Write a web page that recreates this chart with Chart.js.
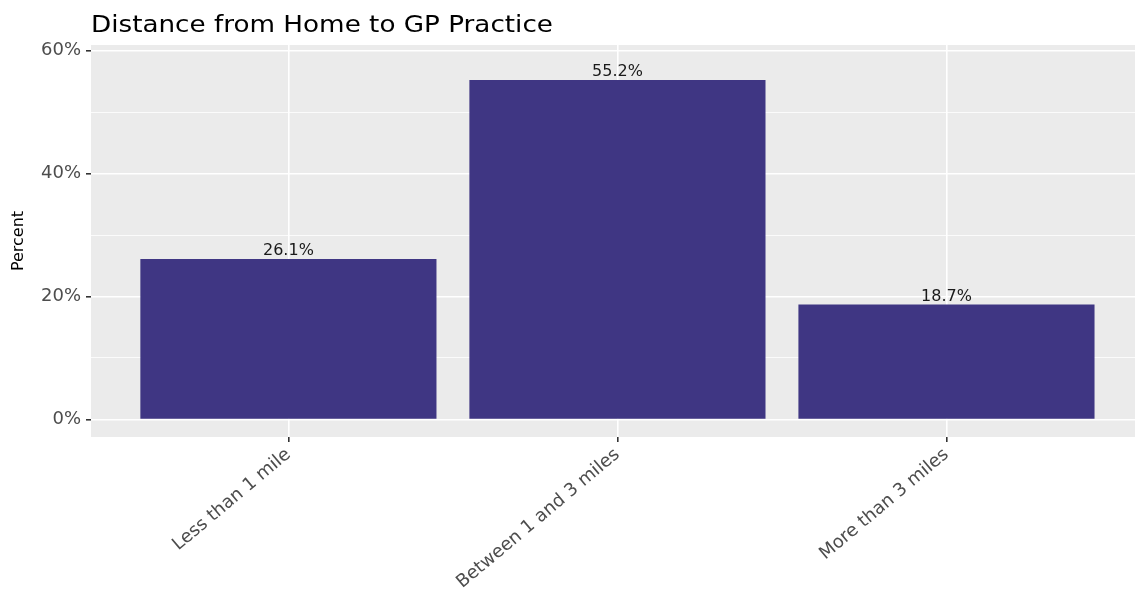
<!DOCTYPE html>
<html>
<head>
<meta charset="utf-8">
<script src="https://cdn.jsdelivr.net/npm/chart.js@4"></script>
<style>
  body { margin: 0; background: #ffffff; }
  #wrap { width: 1135px; height: 589px; }
</style>
</head>
<body>
<div id="wrap"><canvas id="distChart"></canvas></div>
<script>
// chart data
const chartTitle = 'Distance from Home to GP Practice';
const categories = ['Less than 1 mile', 'Between 1 and 3 miles', 'More than 3 miles'];
const percents = [26.1, 55.2, 18.7];
const yTicks = [0, 10, 20, 30, 40, 50, 60];

const FONT = "'DejaVu Sans', sans-serif";

// grey panel behind the plot, like ggplot
const panelBg = {
    id: 'panelBg',
    beforeDraw(chart) {
        const { ctx, chartArea: a } = chart;
        ctx.save();
        ctx.fillStyle = '#ebebeb';
        ctx.fillRect(a.left, a.top, a.right - a.left, a.bottom - a.top);
        ctx.restore();
    }
};

// title drawn flush with the panel's left edge (slightly widened, as in the original)
const leftTitle = {
    id: 'leftTitle',
    afterDraw(chart) {
        const { ctx, chartArea: a } = chart;
        ctx.save();
        ctx.translate(a.left, 32);
        ctx.scale(1.14, 1);
        ctx.font = '23px ' + FONT;
        ctx.fillStyle = '#000000';
        ctx.textBaseline = 'alphabetic';
        ctx.textAlign = 'left';
        ctx.fillText(chartTitle, 0, 0);
        ctx.restore();
    }
};

// value labels above the bars
const barLabels = {
    id: 'barLabels',
    afterDatasetsDraw(chart) {
        const { ctx } = chart;
        const meta = chart.getDatasetMeta(0);
        ctx.save();
        ctx.font = '16px ' + FONT;
        ctx.fillStyle = '#1a1a1a';
        ctx.textAlign = 'center';
        ctx.textBaseline = 'bottom';
        meta.data.forEach((bar, i) => {
            ctx.fillText(percents[i].toFixed(1) + '%', bar.x, bar.y);
        });
        ctx.restore();
    }
};

const ctx = document.getElementById('distChart').getContext('2d');
new Chart(ctx, {
    type: 'bar',
    data: {
        datasets: [{
            data: percents.map((v, i) => ({ x: i + 1, y: v })),
            backgroundColor: '#3f3683',
            borderWidth: 0,
            categoryPercentage: 0.9,
            barPercentage: 1.0
        }]
    },
    options: {
        responsive: true,
        maintainAspectRatio: false,
        animation: false,
        layout: { padding: { top: 45, left: 0, right: 0, bottom: 0 } },
        plugins: {
            legend: { display: false },
            tooltip: { enabled: false }
        },
        scales: {
            x: {
                type: 'linear',
                offset: false,
                min: 0.4,
                max: 3.573,
                afterBuildTicks: scale => {
                    scale.ticks = categories.map((c, i) => ({ value: i + 1 }));
                },
                afterFit: scale => { scale.height = 152; },
                ticks: {
                    autoSkip: false,
                    minRotation: 40,
                    maxRotation: 40,
                    padding: 2,
                    color: '#4d4d4d',
                    font: { family: FONT, size: 18 },
                    callback: v => categories[v - 1]
                },
                grid: {
                    offset: false,
                    color: '#ffffff',
                    lineWidth: 1.6,
                    drawTicks: true,
                    tickLength: 5,
                    tickColor: '#333333'
                },
                border: { display: false }
            },
            y: {
                min: -2.85,
                max: 60.9,
                afterBuildTicks: scale => {
                    scale.ticks = yTicks.map(v => ({ value: v }));
                },
                afterFit: scale => { scale.width = 91; },
                ticks: {
                    padding: 5,
                    color: '#4d4d4d',
                    font: { family: FONT, size: 18 },
                    callback: v => (v % 20 === 0 ? v + '%' : '')
                },
                grid: {
                    color: '#ffffff',
                    lineWidth: c => (c.tick && c.tick.value % 20 === 0 ? 1.6 : 0.8),
                    drawTicks: true,
                    tickLength: 5,
                    tickColor: c => (c.tick && c.tick.value % 20 === 0 ? '#333333' : 'rgba(0,0,0,0)')
                },
                border: { display: false },
                title: {
                    display: true,
                    text: 'Percent',
                    color: '#000000',
                    font: { family: FONT, size: 16 },
                    padding: { top: 9, bottom: 0 }
                }
            }
        }
    },
    plugins: [panelBg, leftTitle, barLabels]
});
</script>
</body>
</html>
